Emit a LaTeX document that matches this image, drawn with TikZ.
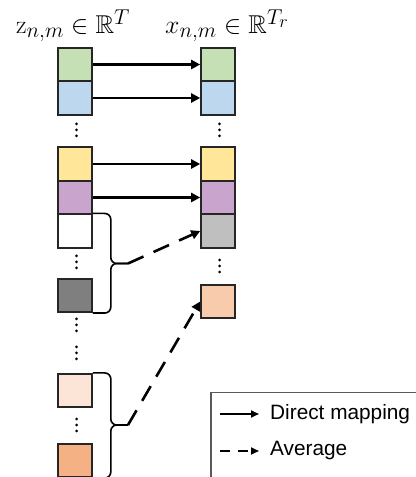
\documentclass[tikz,border=0pt]{standalone}
\usepackage{amssymb}
\usepackage{fontspec}
\newfontfamily\legendfont{Liberation Sans}
\usetikzlibrary{arrows.meta}
\definecolor{cellgreen}{HTML}{C5E0B4}
\definecolor{cellblue}{HTML}{BDD7EE}
\definecolor{cellyellow}{HTML}{FFE699}
\definecolor{cellpurple}{HTML}{C9A5CD}
\definecolor{celldark}{HTML}{7F7F7F}
\definecolor{cellgray}{HTML}{BFBFBF}
\definecolor{cellpeach}{HTML}{F8CBAD}
\definecolor{celllight}{HTML}{FCE4D6}
\definecolor{cellorange}{HTML}{F4B183}
\begin{document}
\begin{tikzpicture}[
    cell/.style={draw=black!85,line width=1.6bp,rectangle,inner sep=0pt,
      minimum width=34bp,minimum height=33.5bp},
    dotcol/.style={inner sep=0pt,minimum width=4bp,minimum height=16bp,
      path picture={\foreach \d in {-6,0,6}
        \fill (path picture bounding box.center) ++(0,\d bp) circle (1.5bp);}},
    map/.style={-{Triangle[length=9bp,width=9bp]},line width=2.6bp},
    avg/.style={map,dash pattern=on 17bp off 11bp},
    brc/.style={line width=1.6bp,rounded corners=6bp},
    legmap/.style={-{Triangle[length=8bp,width=7bp]},line width=1.9bp},
    legavg/.style={legmap,dash pattern=on 10bp off 8bp},
    legtext/.style={anchor=west,inner xsep=11bp,inner ysep=0pt,
      font=\legendfont\fontsize{20.8bp}{24bp}\selectfont},
    title/.style={anchor=base west,inner sep=0pt,scale=1.04,transform shape}]
  \useasboundingbox (0bp,0bp) rectangle (416bp,477bp);
  \clip (0bp,0bp) rectangle (416bp,477bp);
  %% column titles
  \node (zlabel) at (16bp,443bp) [title]
    {\fontsize{24.88pt}{28pt}\selectfont$\mathrm{z}_{n,m} \in \mathbb{R}^{T}$};
  \node (xlabel) at (165bp,443bp) [title]
    {\fontsize{24.88pt}{28pt}\selectfont$x_{n,m} \in \mathbb{R}^{T_r}$};
  %% left column
  \node (zgreen) at (75bp,412.5bp) [cell,fill=cellgreen] {};
  \node (zblue) at (75bp,379bp) [cell,fill=cellblue] {};
  \node (zdotsA) at (76.5bp,347bp) [dotcol] {};
  \node (zyellow) at (75bp,313bp) [cell,fill=cellyellow] {};
  \node (zpurple) at (75bp,279.5bp) [cell,fill=cellpurple] {};
  \node (zwhite) at (75bp,246bp) [cell,fill=white] {};
  \node (zdotsB) at (76.5bp,215bp) [dotcol] {};
  \node (zdark) at (75bp,181.5bp) [cell,fill=celldark] {};
  \node (zdotsC) at (76.5bp,152bp) [dotcol] {};
  \node (zdotsD) at (76.5bp,124bp) [dotcol] {};
  \node (zlight) at (75bp,86.5bp) [cell,fill=celllight] {};
  \node (zdotsE) at (76.5bp,52bp) [dotcol] {};
  \node (zorange) at (75bp,16.5bp) [cell,fill=cellorange] {};
  %% right column
  \node (xgreen) at (218bp,412.5bp) [cell,fill=cellgreen] {};
  \node (xblue) at (218bp,379bp) [cell,fill=cellblue] {};
  \node (xdotsA) at (219.5bp,347bp) [dotcol] {};
  \node (xyellow) at (218bp,313bp) [cell,fill=cellyellow] {};
  \node (xpurple) at (218bp,279.5bp) [cell,fill=cellpurple] {};
  \node (xgray) at (218bp,246bp) [cell,fill=cellgray] {};
  \node (xdotsB) at (219.5bp,211bp) [dotcol] {};
  \node (xpeach) at (218bp,175.5bp) [cell,fill=cellpeach] {};
  %% direct mapping
  \draw [map] (zgreen) -- (xgreen);
  \draw [map] (zblue) -- (xblue);
  \draw [map] (zyellow) -- (xyellow);
  \draw [map] (zpurple) -- (xpurple);
  %% braces and averages
  \coordinate (tipA) at (128bp,213.5bp);
  \coordinate (tipB) at (128bp,52bp);
  \draw [brc] (zwhite.north east) -- ++(18bp,0bp) |- (tipA);
  \draw [brc] (zdark.south east) -- ++(18bp,0bp) |- (tipA);
  \draw [brc] (zlight.north east) -- ++(18bp,0bp) |- (tipB);
  \draw [brc] (zorange.south east) -- ++(18bp,0bp) |- (tipB);
  \draw [avg] (tipA) -- (xgray.west);
  \draw [avg] (tipB) -- (xpeach.west);
  %% legend
  \draw [draw=black!65,line width=1.4bp] (211bp,84.3bp) rectangle (430bp,-10bp);
  \coordinate (legA) at (220bp,63bp);
  \coordinate (legB) at (220bp,26bp);
  \node (directlbl) at (259bp,63bp) [legtext] {Direct mapping};
  \node (avglbl) at (259bp,26bp) [legtext] {Average};
  \draw [legmap] (legA) -- (directlbl);
  \draw [legavg] (legB) -- (avglbl);
\end{tikzpicture}
\end{document}
